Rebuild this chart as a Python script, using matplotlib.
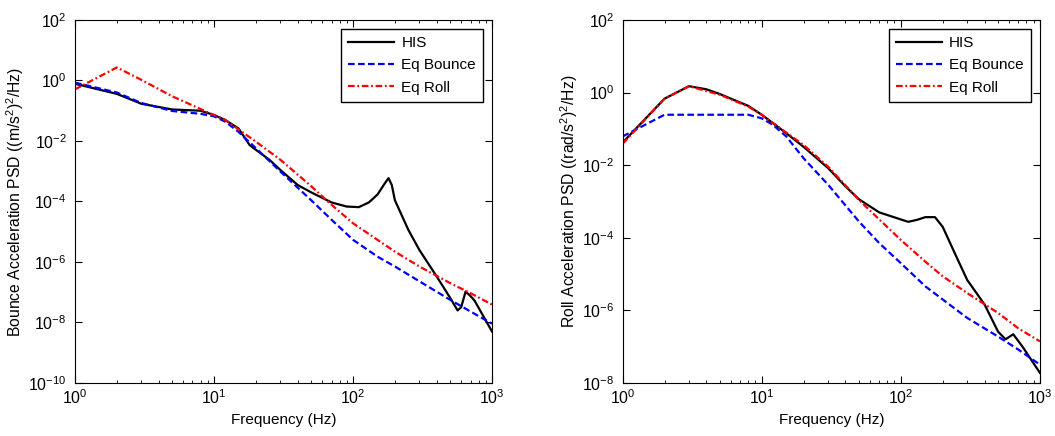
import numpy as np
import matplotlib
matplotlib.use("Agg")
import matplotlib.pyplot as plt
from matplotlib.ticker import FixedLocator, NullFormatter, LogFormatterSciNotation

plt.rcParams['font.family'] = ['Liberation Sans', 'DejaVu Sans']
plt.rcParams['mathtext.default'] = 'regular'
plt.rcParams['font.size'] = 11

# bounce plot (left)
f_his_b = [1, 2, 3, 5, 8, 10, 12, 15, 18, 20, 25, 30, 40, 50, 70, 90, 110, 130, 150, 170, 180,
           190, 200, 250, 300, 400, 500, 565, 600, 645, 700, 750, 1000]
his_b = [0.78, 0.36, 0.17, 0.11, 0.10, 0.072, 0.050, 0.026, 0.0074, 0.0051, 0.0024, 0.0011,
         3.5e-4, 2.0e-4, 9.3e-5, 6.8e-5, 6.5e-5, 9.3e-5, 1.7e-4, 4.1e-4, 5.9e-4,
         3.5e-4, 1.1e-4, 1.15e-5, 2.5e-6, 3.3e-7, 6.5e-8, 2.5e-8, 3.2e-8, 1.05e-7, 7.5e-8, 5.2e-8, 5.0e-9]

f_bnc_b = [1, 2, 3, 5, 8, 10, 12, 15, 20, 30, 50, 70, 100, 150, 200, 300, 500, 700, 1000]
bnc_b = [0.85, 0.40, 0.18, 0.098, 0.079, 0.065, 0.044, 0.020, 0.0058, 9.8e-4, 1.1e-4, 2.5e-5,
         5.4e-6, 1.5e-6, 7.1e-7, 2.3e-7, 5.6e-8, 2.3e-8, 9.1e-9]

f_roll_b = [1, 2, 3, 5, 10, 12, 20, 30, 50, 70, 100, 150, 200, 300, 500, 700, 1000]
roll_b = [0.51, 2.7, 1.05, 0.30, 0.072, 0.050, 0.0095, 0.0024, 3.2e-4, 7.8e-5, 1.9e-5,
          5.4e-6, 2.2e-6, 7.1e-7, 2.0e-7, 9.3e-8, 3.9e-8]

# roll plot (right)
f_his_r = [1, 2, 3, 4, 5, 8, 10, 15, 20, 30, 40, 50, 70, 100, 113, 130, 150, 176, 200, 250,
           300, 400, 500, 566, 643, 750, 1000]
his_r = [0.042, 0.68, 1.5, 1.23, 0.91, 0.43, 0.245, 0.076, 0.032, 0.0083, 0.0026, 0.00115,
         5.0e-4, 3.2e-4, 2.75e-4, 3.1e-4, 3.7e-4, 3.7e-4, 2.0e-4, 3.1e-5,
         6.9e-6, 1.45e-6, 2.6e-7, 1.6e-7, 2.2e-7, 1.0e-7, 1.9e-8]

f_bnc_r = [1, 2, 3, 5, 8, 10, 12, 15, 20, 30, 50, 70, 100, 150, 200, 300, 500, 700, 1000]
bnc_r = [0.062, 0.245, 0.245, 0.245, 0.245, 0.195, 0.13, 0.062, 0.0155, 0.0029, 2.8e-4,
         7.1e-5, 2.0e-5, 4.6e-6, 2.0e-6, 6.2e-7, 1.9e-7, 8.3e-8, 3.2e-8]

f_roll_r = [1, 2, 3, 5, 8, 10, 15, 20, 30, 50, 70, 100, 150, 200, 300, 500, 700, 1000]
roll_r = [0.039, 0.68, 1.5, 0.87, 0.41, 0.245, 0.079, 0.036, 0.0091, 0.0011, 3.2e-4,
          8.7e-5, 2.2e-5, 8.7e-6, 3.0e-6, 8.5e-7, 3.2e-7, 1.4e-7]

x_ticks = [1, 10, 100, 1000]
x_minor = [m * d for d in (1, 10, 100) for m in range(2, 10)]
y_ticks_b = [1e-10, 1e-8, 1e-6, 1e-4, 1e-2, 1, 1e2]
y_ticks_r = [1e-8, 1e-6, 1e-4, 1e-2, 1, 1e2]

DASH = (3, 1.5)
DASHDOT = (3, 1.2, 0.8, 1.2)


def style_axes(ax, yticks, ylabel, label_x):
    ax.set_xscale('log')
    ax.set_yscale('log')
    ax.set_xlim(1, 1000)
    ax.set_ylim(yticks[0], yticks[-1])
    ax.xaxis.set_major_locator(FixedLocator(x_ticks))
    ax.xaxis.set_minor_locator(FixedLocator(x_minor))
    ax.xaxis.set_minor_formatter(NullFormatter())
    ax.yaxis.set_major_locator(FixedLocator(yticks))
    ax.yaxis.set_minor_locator(FixedLocator([]))
    ax.yaxis.set_minor_formatter(NullFormatter())
    ax.xaxis.set_major_formatter(LogFormatterSciNotation())
    ax.yaxis.set_major_formatter(LogFormatterSciNotation())
    ax.tick_params(which='both', direction='in', top=True, right=True)
    ax.tick_params(which='major', length=5, labelsize=11.5)
    ax.tick_params(axis='y', pad=6)
    ax.tick_params(which='minor', length=2.5)
    ax.set_xlabel('Frequency (Hz)', fontsize=11, labelpad=5)
    ax.set_ylabel(ylabel, fontsize=11.3)
    ax.yaxis.set_label_coords(label_x, 0.5)
    leg = ax.legend(loc='upper right', fancybox=False, framealpha=1, edgecolor='black',
                    handlelength=3.0, handletextpad=0.5, fontsize=11,
                    borderpad=0.45, labelspacing=0.55, borderaxespad=0.6)
    leg.get_frame().set_linewidth(1.0)


fig = plt.figure(figsize=(10.55, 4.36), dpi=100)
ax1 = fig.add_axes([0.0711, 0.1216, 0.3953, 0.8326])
ax2 = fig.add_axes([0.5902, 0.1216, 0.3955, 0.8326])

ax1.plot(f_his_b, his_b, 'k-', lw=1.6, label='HIS')
ax1.plot(f_bnc_b, bnc_b, 'b--', lw=1.6, dashes=DASH, label='Eq Bounce')
ax1.plot(f_roll_b, roll_b, 'r-.', lw=1.6, dashes=DASHDOT, label='Eq Roll')
style_axes(ax1, y_ticks_b, 'Bounce Acceleration PSD ((m/s$^2$)$^2$/Hz)', -0.117)

ax2.plot(f_his_r, his_r, 'k-', lw=1.6, label='HIS')
ax2.plot(f_bnc_r, bnc_r, 'b--', lw=1.6, dashes=DASH, label='Eq Bounce')
ax2.plot(f_roll_r, roll_r, 'r-.', lw=1.6, dashes=DASHDOT, label='Eq Roll')
style_axes(ax2, y_ticks_r, 'Roll Acceleration PSD ((rad/s$^2$)$^2$/Hz)', -0.102)

fig.savefig('out.png', dpi=100)
